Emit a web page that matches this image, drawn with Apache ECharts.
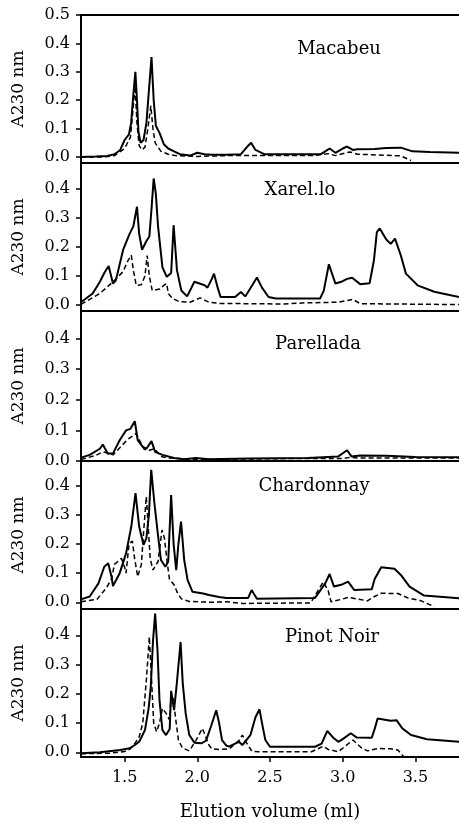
<!DOCTYPE html>
<html>
<head>
<meta charset="utf-8">
<script src="https://cdn.jsdelivr.net/npm/echarts@6/dist/echarts.min.js"></script>
<style>
  html, body { margin: 0; padding: 0; background: #fff; }
  #chart { width: 459px; height: 823px; }
</style>
</head>
<body>
<div id="chart"></div>
<script>
// elution profiles, [volume ml, A230]
var macabeuSolid = [[1.2,0.0],[1.3,0.002],[1.38,0.004],[1.43,0.01],[1.47,0.025],[1.5,0.06],[1.53,0.08],[1.545,0.12],[1.56,0.22],[1.574,0.30],[1.585,0.2],[1.595,0.09],[1.61,0.05],[1.63,0.06],[1.65,0.12],[1.665,0.22],[1.685,0.352],[1.70,0.2],[1.715,0.11],[1.74,0.085],[1.77,0.045],[1.8,0.03],[1.84,0.02],[1.88,0.01],[1.95,0.005],[2.0,0.015],[2.05,0.01],[2.1,0.008],[2.2,0.008],[2.3,0.01],[2.35,0.04],[2.37,0.05],[2.4,0.025],[2.46,0.01],[2.6,0.01],[2.85,0.01],[2.88,0.02],[2.91,0.03],[2.95,0.015],[3.0,0.03],[3.03,0.037],[3.07,0.025],[3.1,0.027],[3.22,0.028],[3.3,0.032],[3.4,0.033],[3.48,0.02],[3.6,0.018],[3.8,0.015]];
var macabeuDashed = [[1.2,0.0],[1.35,0.0],[1.43,0.005],[1.5,0.03],[1.54,0.07],[1.56,0.18],[1.572,0.25],[1.585,0.12],[1.6,0.04],[1.62,0.025],[1.64,0.035],[1.66,0.1],[1.68,0.18],[1.695,0.1],[1.71,0.05],[1.75,0.02],[1.8,0.01],[1.85,0.005],[2.0,0.002],[2.2,0.005],[2.8,0.005],[2.9,0.012],[2.95,0.005],[3.05,0.018],[3.1,0.01],[3.2,0.008],[3.4,0.004],[3.47,-0.012]];

var xarelloSolid = [[1.2,0.01],[1.28,0.04],[1.33,0.08],[1.36,0.11],[1.39,0.134],[1.42,0.074],[1.44,0.085],[1.49,0.19],[1.535,0.245],[1.56,0.27],[1.585,0.337],[1.6,0.245],[1.62,0.19],[1.65,0.22],[1.67,0.235],[1.685,0.33],[1.70,0.434],[1.715,0.38],[1.73,0.27],[1.76,0.13],[1.79,0.097],[1.82,0.11],[1.837,0.274],[1.86,0.12],[1.89,0.05],[1.93,0.03],[1.98,0.08],[2.01,0.075],[2.05,0.068],[2.07,0.06],[2.1,0.09],[2.115,0.108],[2.14,0.06],[2.16,0.028],[2.26,0.028],[2.30,0.045],[2.33,0.03],[2.38,0.07],[2.41,0.095],[2.445,0.06],[2.49,0.028],[2.54,0.023],[2.845,0.023],[2.87,0.05],[2.905,0.14],[2.95,0.074],[2.99,0.08],[3.03,0.09],[3.065,0.094],[3.12,0.072],[3.185,0.075],[3.215,0.154],[3.235,0.25],[3.255,0.263],[3.3,0.225],[3.33,0.21],[3.36,0.228],[3.40,0.17],[3.435,0.108],[3.515,0.068],[3.63,0.046],[3.8,0.028]];
var xarelloDashed = [[1.2,0.003],[1.33,0.04],[1.42,0.08],[1.49,0.115],[1.52,0.15],[1.546,0.171],[1.56,0.12],[1.58,0.068],[1.615,0.07],[1.64,0.1],[1.655,0.17],[1.67,0.1],[1.69,0.05],[1.74,0.055],[1.775,0.07],[1.79,0.074],[1.80,0.04],[1.83,0.023],[1.876,0.012],[1.95,0.01],[2.02,0.025],[2.08,0.01],[2.15,0.006],[2.6,0.004],[2.74,0.008],[2.97,0.01],[3.07,0.02],[3.12,0.005],[3.8,0.002]];

var parelladaSolid = [[1.2,0.011],[1.26,0.02],[1.33,0.04],[1.35,0.054],[1.385,0.024],[1.42,0.025],[1.466,0.068],[1.51,0.1],[1.54,0.105],[1.57,0.13],[1.59,0.068],[1.625,0.046],[1.65,0.04],[1.685,0.065],[1.71,0.03],[1.76,0.02],[1.84,0.01],[1.91,0.006],[1.99,0.01],[2.08,0.006],[2.35,0.008],[2.76,0.01],[2.97,0.015],[3.03,0.035],[3.06,0.015],[3.12,0.018],[3.3,0.017],[3.5,0.013],[3.8,0.012]];
var parelladaDashed = [[1.2,0.005],[1.3,0.018],[1.35,0.03],[1.39,0.025],[1.42,0.02],[1.47,0.045],[1.52,0.07],[1.58,0.09],[1.60,0.07],[1.635,0.038],[1.67,0.035],[1.705,0.04],[1.75,0.015],[1.8,0.01],[2.0,0.005],[2.66,0.008],[3.0,0.008],[3.05,0.012],[3.1,0.01],[3.8,0.01]];

var chardonnaySolid = [[1.2,0.01],[1.26,0.02],[1.32,0.065],[1.36,0.122],[1.387,0.134],[1.41,0.088],[1.42,0.056],[1.466,0.1],[1.51,0.168],[1.546,0.26],[1.575,0.375],[1.60,0.26],[1.63,0.197],[1.65,0.22],[1.667,0.3],[1.683,0.455],[1.705,0.34],[1.728,0.237],[1.75,0.145],[1.78,0.122],[1.80,0.14],[1.82,0.368],[1.837,0.2],[1.855,0.11],[1.87,0.2],[1.888,0.277],[1.91,0.145],[1.933,0.077],[1.967,0.036],[2.04,0.03],[2.08,0.025],[2.15,0.018],[2.2,0.015],[2.35,0.015],[2.373,0.042],[2.41,0.012],[2.81,0.015],[2.845,0.04],[2.88,0.065],[2.91,0.097],[2.94,0.054],[2.99,0.06],[3.037,0.071],[3.08,0.042],[3.2,0.045],[3.22,0.08],[3.265,0.12],[3.356,0.115],[3.4,0.094],[3.46,0.054],[3.56,0.023],[3.8,0.014]];
var chardonnayDashed = [[1.2,0.002],[1.31,0.01],[1.375,0.05],[1.41,0.08],[1.43,0.13],[1.478,0.151],[1.50,0.12],[1.51,0.1],[1.53,0.2],[1.553,0.21],[1.569,0.15],[1.59,0.088],[1.615,0.13],[1.632,0.25],[1.649,0.363],[1.66,0.28],[1.676,0.15],[1.695,0.111],[1.73,0.14],[1.757,0.248],[1.774,0.22],[1.79,0.15],[1.808,0.08],[1.84,0.06],[1.865,0.031],[1.89,0.012],[1.945,0.003],[2.1,0.0],[2.2,0.002],[2.31,-0.004],[2.78,-0.002],[2.83,0.04],[2.867,0.07],[2.9,0.04],[2.92,0.002],[2.99,0.01],[3.04,0.017],[3.095,0.012],[3.17,0.005],[3.22,0.02],[3.265,0.031],[3.38,0.03],[3.447,0.015],[3.54,0.005],[3.63,-0.015]];

var pinotSolid = [[1.2,-0.003],[1.33,0.0],[1.34,0.005],[1.47,0.008],[1.535,0.014],[1.57,0.025],[1.60,0.036],[1.64,0.076],[1.665,0.15],[1.68,0.224],[1.695,0.38],[1.71,0.474],[1.726,0.35],[1.74,0.178],[1.76,0.076],[1.785,0.059],[1.81,0.08],[1.82,0.21],[1.83,0.21],[1.84,0.144],[1.856,0.22],[1.885,0.377],[1.90,0.235],[1.92,0.133],[1.945,0.059],[1.98,0.033],[2.03,0.031],[2.06,0.04],[2.095,0.09],[2.13,0.144],[2.15,0.1],[2.17,0.042],[2.2,0.023],[2.22,0.02],[2.286,0.036],[2.31,0.025],[2.366,0.06],[2.40,0.12],[2.428,0.147],[2.445,0.1],[2.468,0.042],[2.50,0.019],[2.81,0.019],[2.855,0.03],[2.894,0.073],[2.935,0.05],[2.97,0.036],[3.0,0.045],[3.056,0.065],[3.095,0.051],[3.2,0.05],[3.22,0.08],[3.24,0.116],[3.33,0.108],[3.37,0.11],[3.41,0.082],[3.47,0.059],[3.58,0.045],[3.8,0.036]];
var pinotDashed = [[1.2,-0.005],[1.4,-0.003],[1.5,0.003],[1.535,0.01],[1.57,0.03],[1.60,0.053],[1.625,0.1],[1.65,0.25],[1.67,0.395],[1.685,0.25],[1.70,0.1],[1.72,0.07],[1.74,0.1],[1.76,0.15],[1.786,0.133],[1.81,0.11],[1.82,0.2],[1.835,0.18],[1.855,0.1],[1.87,0.042],[1.897,0.015],[1.945,0.005],[1.99,0.04],[2.035,0.082],[2.06,0.05],[2.08,0.025],[2.1,0.012],[2.15,0.01],[2.22,0.012],[2.286,0.04],[2.31,0.059],[2.34,0.031],[2.377,0.003],[2.42,0.002],[2.785,0.002],[2.867,0.021],[2.9,0.01],[2.97,0.002],[3.07,0.042],[3.13,0.015],[3.17,0.005],[3.24,0.013],[3.33,0.012],[3.38,0.008],[3.42,-0.015]];

var panelNames = ['Macabeu', 'Xarel.lo', 'Parellada', 'Chardonnay', 'Pinot Noir'];
var solidSets = [macabeuSolid, xarelloSolid, parelladaSolid, chardonnaySolid, pinotSolid];
var dashedSets = [macabeuDashed, xarelloDashed, parelladaDashed, chardonnayDashed, pinotDashed];
var yTicksTop = [0, 0.1, 0.2, 0.3, 0.4, 0.5];
var yTicks = [0, 0.1, 0.2, 0.3, 0.4];
var xTicks = [1.5, 2.0, 2.5, 3.0, 3.5];

// layout of the stacked panels (px) and their y ranges
var layout = [
  {top: 15,  height: 148, min: -0.021, max: 0.5,   tx: 339, ty: 49},
  {top: 163, height: 148, min: -0.02,  max: 0.487, tx: 300, ty: 190},
  {top: 311, height: 150, min: 0,      max: 0.49,  tx: 318, ty: 344},
  {top: 461, height: 148, min: -0.023, max: 0.485, tx: 314, ty: 486},
  {top: 609, height: 148, min: -0.016, max: 0.49,  tx: 332, ty: 637}
];

var font = 'DejaVu Serif';
var chart = echarts.init(document.getElementById('chart'), null, {renderer: 'canvas'});

var grids = [], xAxes = [], yAxes = [], series = [], texts = [];
layout.forEach(function (p, i) {
  var last = i === layout.length - 1;
  grids.push({left: 81, top: p.top, width: 381, height: p.height});
  xAxes.push({
    type: 'value', gridIndex: i, min: 1.2, max: 3.8,
    axisLine: {show: true, onZero: false, lineStyle: {color: '#000', width: 2}},
    axisTick: {show: last, length: 5, customValues: xTicks, lineStyle: {color: '#000', width: 1.5}},
    axisLabel: {
      show: last, customValues: xTicks, margin: 13,
      formatter: function (v) { return v.toFixed(1); },
      fontFamily: font, fontSize: 16, color: '#000'
    },
    splitLine: {show: false},
    name: last ? 'Elution volume (ml)' : '',
    nameLocation: 'middle', nameGap: 46,
    nameTextStyle: {fontFamily: font, fontSize: 18, color: '#000'}
  });
  var ticks = i === 0 ? yTicksTop : yTicks;
  yAxes.push({
    type: 'value', gridIndex: i, min: p.min, max: p.max,
    axisLine: {show: true, onZero: false, lineStyle: {color: '#000', width: 2}},
    axisTick: {show: true, length: 5, customValues: ticks, lineStyle: {color: '#000', width: 1.5}},
    axisLabel: {
      customValues: ticks, margin: 11,
      formatter: function (v) { return v.toFixed(1); },
      fontFamily: font, fontSize: 16, color: '#000'
    },
    splitLine: {show: false},
    name: 'A230 nm', nameLocation: 'middle', nameGap: 54,
    nameTextStyle: {fontFamily: font, fontSize: 17, color: '#000'}
  });
  series.push({
    type: 'line', xAxisIndex: i, yAxisIndex: i, data: solidSets[i],
    symbol: 'none', lineStyle: {color: '#000', width: 2}
  });
  series.push({
    type: 'line', xAxisIndex: i, yAxisIndex: i, data: dashedSets[i],
    symbol: 'none', lineStyle: {color: '#000', width: 1.5, type: [5, 3]}
  });
  texts.push({
    type: 'text', x: p.tx, y: p.ty,
    style: {text: panelNames[i], font: '18px "' + font + '"', fill: '#000',
            textAlign: 'center', textVerticalAlign: 'middle'}
  });
});

// top border of the first panel
xAxes.push({
  type: 'value', gridIndex: 0, min: 1.2, max: 3.8, position: 'top',
  axisLine: {show: true, onZero: false, lineStyle: {color: '#000', width: 2}},
  axisTick: {show: false}, axisLabel: {show: false}, splitLine: {show: false}
});

chart.setOption({
  animation: false,
  backgroundColor: '#fff',
  grid: grids,
  xAxis: xAxes,
  yAxis: yAxes,
  series: series,
  graphic: texts
});
</script>
</body>
</html>
